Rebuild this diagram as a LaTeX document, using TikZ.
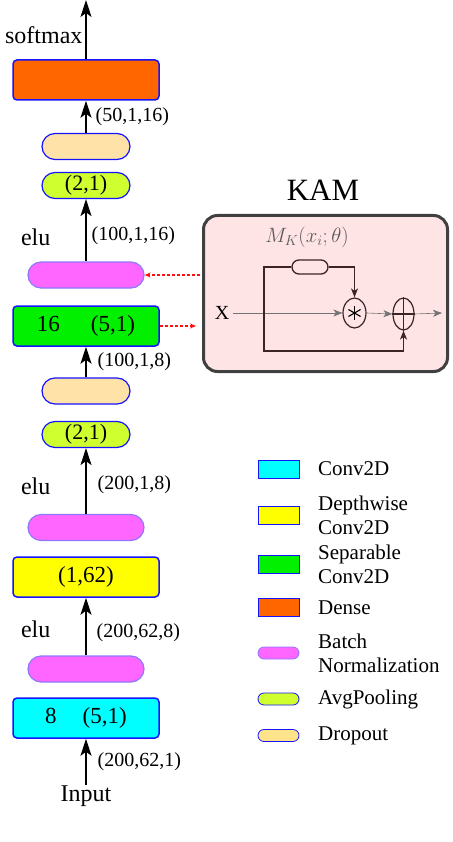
\documentclass[tikz,border=0pt]{standalone}
\usepackage{fontspec}
\setmainfont{Liberation Serif}
\usetikzlibrary{arrows.meta, positioning, shapes.geometric, calc}

\definecolor{convcol}{HTML}{00FFFF}
\definecolor{dwcol}{HTML}{FFFF00}
\definecolor{sepcol}{HTML}{00F000}
\definecolor{densecol}{HTML}{FF6600}
\definecolor{bncol}{HTML}{FF66FF}
\definecolor{bnedge}{HTML}{8C78FF}
\definecolor{poolcol}{HTML}{D0FF30}
\definecolor{dropcol}{HTML}{FFE2A8}
\definecolor{dropkeycol}{HTML}{FFE38A}
\definecolor{edgecol}{HTML}{1414FF}
\definecolor{kamfill}{HTML}{FFE4E6}
\definecolor{kamedge}{HTML}{404040}
\definecolor{kamline}{HTML}{3A2424}
\definecolor{linkred}{HTML}{FF1010}

\begin{document}
\begin{tikzpicture}[x=1pt, y=-1pt,
    layer/.style={rectangle, draw=edgecol, line width=1.5pt, rounded corners=4pt,
        minimum width=146pt, minimum height=40pt, inner sep=0pt,
        font=\fontsize{23}{27}\selectfont},
    pill/.style={rectangle, draw=edgecol, line width=1.2pt, rounded corners=13pt,
        minimum width=88pt, minimum height=26pt, inner sep=0pt,
        font=\fontsize{22}{26}\selectfont},
    bnpill/.style={pill, draw=bnedge, fill=bncol, minimum width=116pt},
    poolpill/.style={pill, fill=poolcol},
    droppill/.style={pill, fill=dropcol},
    txt/.style={inner sep=0pt, font=\fontsize{24}{28}\selectfont},
    lbl/.style={inner sep=0pt, font=\fontsize{20}{24}\selectfont},
    flow/.style={-{Stealth[length=17pt, width=11pt, inset=4pt]}, line width=1.2pt},
    kamlink/.style={-{Stealth[length=6pt, width=5pt]}, draw=linkred, line width=1.2pt, dash pattern=on 3pt off 2pt},
    % legend keys
    keybox/.style={rectangle, draw=edgecol, line width=0.8pt, minimum width=41pt, minimum height=18pt, inner sep=0pt},
    keypill/.style={rectangle, draw=edgecol, line width=0.8pt, rounded corners=6pt, minimum width=41pt, minimum height=12pt, inner sep=0pt},
    convkey/.style={keybox, fill=convcol},
    dwkey/.style={keybox, fill=dwcol},
    sepkey/.style={keybox, fill=sepcol},
    densekey/.style={keybox, fill=densecol},
    bnkey/.style={keypill, draw=bnedge, fill=bncol},
    poolkey/.style={keypill, fill=poolcol},
    dropkey/.style={keypill, fill=dropkeycol},
    legtxt/.style={inner sep=0pt, align=left, anchor=west, font=\fontsize{21}{24}\selectfont},
    % KAM block
    kambox/.style={rectangle, draw=kamedge, line width=3pt, fill=kamfill, rounded corners=14pt,
        minimum width=244pt, minimum height=156pt},
    gatepill/.style={rectangle, draw=kamline, line width=1.3pt, rounded corners=7pt,
        minimum width=36pt, minimum height=14pt, inner sep=0pt},
    op/.style={ellipse, draw=kamline, line width=1.2pt, minimum width=23pt, minimum height=30pt, inner sep=0pt},
    kamarrow/.style={-{Stealth[length=9pt, width=7pt, inset=2.5pt]}, line width=1.2pt, draw=kamline},
    thinarrow/.style={kamarrow, line width=0.6pt, draw=black!55}
]
    \useasboundingbox (0,0) rectangle (452,842);

    % Network column
    \coordinate (top) at (86,0);
    \node[layer, fill=densecol] (dense) at (86,80) {};
    \node[droppill] (drop2) at (86,146.5) {};
    \node[poolpill] (pool2) at (86,185.5) {(2,1)};
    \node[bnpill] (bn3) at (86,275) {};
    \node[layer, fill=sepcol] (sep) at (86,326) {16\hspace{31pt}(5,1)};
    \node[droppill] (drop1) at (86,391) {};
    \node[poolpill] (pool1) at (86,434.5) {(2,1)};
    \node[bnpill] (bn2) at (86,527.5) {};
    \node[layer, fill=dwcol] (dw) at (86,577) {(1,62)};
    \node[bnpill] (bn1) at (86,669) {};
    \node[layer, fill=convcol] (conv) at (86,718) {8\hspace{26pt}(5,1)};
    \node[txt] (input) at (86,796) {Input};

    % Arrows with output shapes
    \draw[flow] (input.north) -- (conv.south) node[midway, right=11pt, lbl] {(200,62,1)};
    \draw[flow] (bn1.north) -- (dw.south)
        node[pos=0.4, right=10pt, lbl] {(200,62,8)}
        node[pos=0.45, left=35pt, txt] {elu};
    \draw[flow] (bn2.north) -- (pool1.south)
        node[pos=0.45, right=11pt, lbl] {(200,1,8)}
        node[pos=0.42, left=35pt, txt] {elu};
    \draw[flow] (drop1.north) -- (sep.south) node[midway, right=11pt, lbl] {(100,1,8)};
    \draw[flow] (bn3.north) -- (pool2.south)
        node[pos=0.42, right=5pt, lbl] {(100,1,16)}
        node[pos=0.39, left=35pt, txt] {elu};
    \draw[flow] (drop2.north) -- (dense.south) node[midway, right=9pt, lbl] {(50,1,16)};
    \draw[flow] (dense.north) -- (top) node[pos=0.4, left=3pt, txt] {softmax};

    % KAM block
    \node[kambox] (kam) at (325.5,293.5) {};
    \node[inner sep=0pt, font=\fontsize{31}{34}\selectfont] (kamtitle) at (323,190) {KAM};
    \node[inner sep=0pt, text=black!65, font=\fontsize{20}{24}\selectfont] (mlabel) at (307,237) {$M_K(x_i;\theta)$};
    \node[gatepill] (gate) at (310,267) {};
    \node[lbl] (xin) at (222,313) {X};
    \node[op] (mul) at (354.5,313) {};
    \node[op, minimum width=21pt, minimum height=32pt] (add) at (403.5,314) {};
    \coordinate (tl) at (264,267);
    \coordinate (bl) at (264,351);
    \coordinate (kout) at (442,313);

    \foreach \a in {90,30,150}
        \draw[line width=1.1pt] ($(mul.center)+(\a:7pt)$) -- ($(mul.center)-(\a:7pt)$);
    \draw[kamline, line width=1.1pt] (add.north) -- (add.south) (add.west) -- (add.east);

    \draw[thinarrow] (xin.east) ++(4pt,0) -- (mul.west);
    \draw[thinarrow] (mul.east) -- (add.west);
    \draw[thinarrow] (add.east) -- (kout);
    \draw[kamarrow] (gate.east) -| (mul.north);
    \draw[kamarrow] (gate.west) -- (tl) -- (bl) -| (add.south);

    % Links to KAM
    \draw[kamlink] ($(kam.west |- bn3.east)+(-2pt,0)$) -- (bn3.east);
    \draw[kamlink, shorten >=6pt] (sep.east) -- (sep.east -| kam.west);

    % Legend
    \foreach \i/\y/\sty/\txt in {1/469/convkey/Conv2D, 2/515/dwkey/{Depthwise\\Conv2D},
            3/564/sepkey/{Separable\\Conv2D}, 4/607.5/densekey/Dense,
            5/653/bnkey/{Batch\\Normalization}, 6/699/poolkey/AvgPooling, 7/735.5/dropkey/Dropout}
    {
        \node[\sty] (key\i) at (278.5,\y) {};
        \node[legtxt] (keytxt\i) at (318,\y) {\txt};
    }
\end{tikzpicture}
\end{document}
